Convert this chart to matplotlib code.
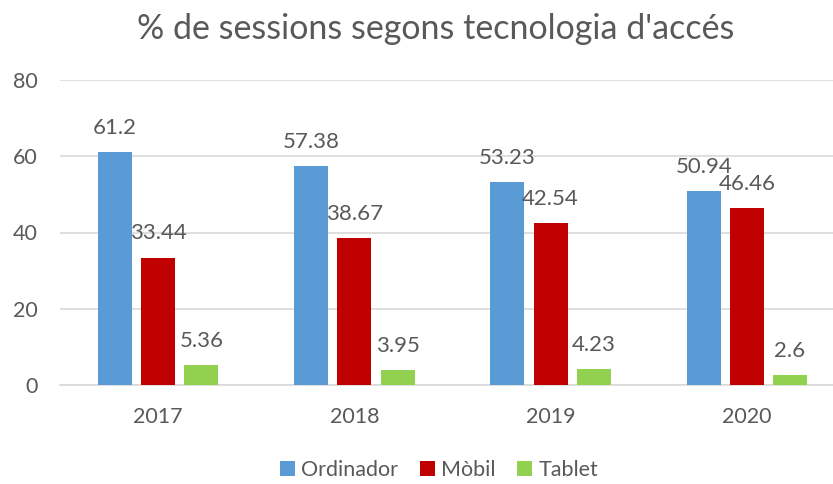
import matplotlib
matplotlib.use("Agg")
import matplotlib.pyplot as plt
import numpy as np

years = ["2017", "2018", "2019", "2020"]
series_names = ["Ordinador", "Mòbil", "Tablet"]
ordinador = [61.2, 57.38, 53.23, 50.94]
mobil = [33.44, 38.67, 42.54, 46.46]
tablet = [5.36, 3.95, 4.23, 2.6]
colors = ["#5B9BD5", "#C00000", "#92D050"]
yticks = [0, 20, 40, 60, 80]

plt.rcParams['font.family'] = ['Lato', 'DejaVu Sans']
TXT = "#595959"
GRID = "#D9D9D9"

fig = plt.figure(figsize=(8.33, 4.84), dpi=100)
ax = fig.add_axes([60/833, 99/484, 785/833, 305/484])

x = np.arange(len(years))
bw = 0.173
step = 0.22
for i, (vals, name, c) in enumerate(zip([ordinador, mobil, tablet], series_names, colors)):
    pos = x + (i - 1) * step
    bars = ax.bar(pos, vals, width=bw, color=c, label=name, zorder=3)
    for p, v in zip(pos, vals):
        ax.annotate(f"{v:g}", xy=(p, v), xytext=(0, 13), textcoords="offset points",
                    ha="center", va="baseline", fontsize=16, color=TXT, zorder=4)

ax.set_xlim(-0.5, 3.5)
ax.set_ylim(0, 80)
ax.set_yticks(yticks)
ax.set_xticks(x)
ax.set_xticklabels(years)
ax.yaxis.grid(True, color=GRID, linewidth=1.2, zorder=0)
ax.set_axisbelow(True)
for s in ["top", "right", "left"]:
    ax.spines[s].set_visible(False)
ax.spines["bottom"].set_color(GRID)
ax.spines["bottom"].set_linewidth(1.2)
ax.tick_params(axis="both", length=0, labelsize=15.5, labelcolor=TXT)
ax.tick_params(axis="y", pad=16)
ax.tick_params(axis="x", pad=16)

fig.text(0.523, 0.94, "% de sessions segons tecnologia d'accés", ha="center", va="center",
         fontsize=24.5, color=TXT)

leg = fig.legend(loc="center", bbox_to_anchor=(0.527, 0.029), ncol=3, frameon=False,
                 fontsize=15.5, handlelength=0.7, handleheight=0.7, handletextpad=0.3,
                 columnspacing=1.0, labelcolor=TXT)

fig.savefig("out.png", dpi=100)
